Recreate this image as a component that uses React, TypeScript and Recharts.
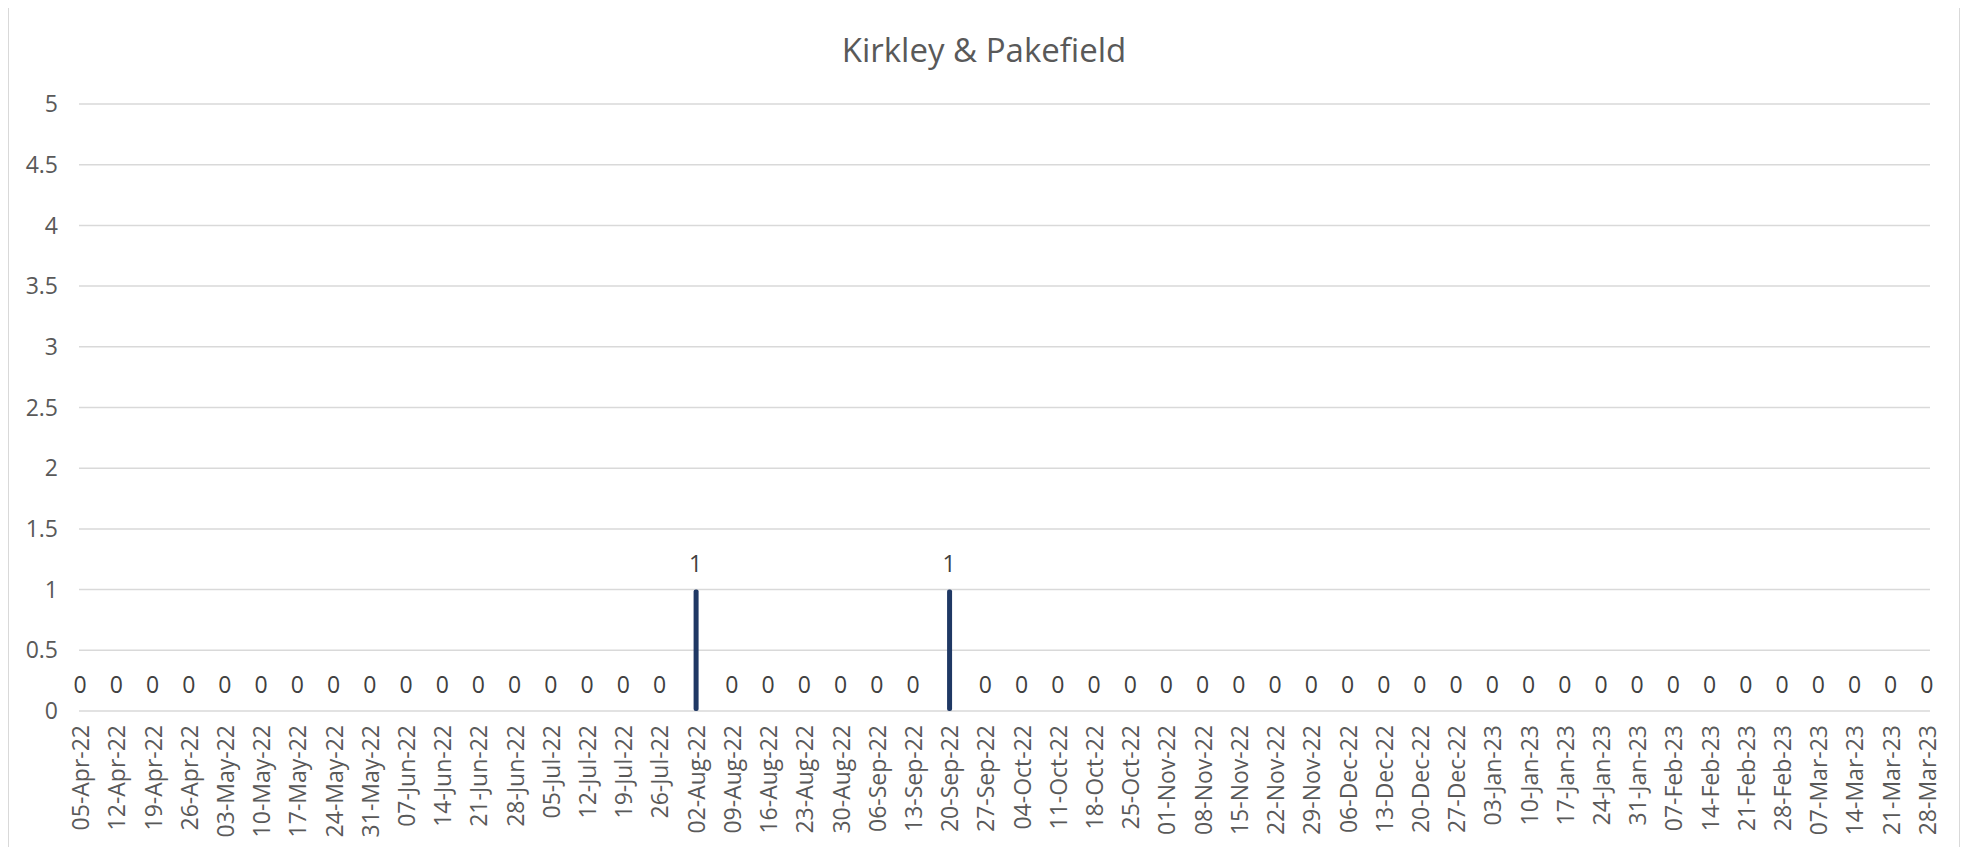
import { ComposedChart, Bar, Line, XAxis, YAxis, CartesianGrid, LabelList } from "recharts";

const weeks = [
  "05-Apr-22", "12-Apr-22", "19-Apr-22", "26-Apr-22",
  "03-May-22", "10-May-22", "17-May-22", "24-May-22", "31-May-22",
  "07-Jun-22", "14-Jun-22", "21-Jun-22", "28-Jun-22",
  "05-Jul-22", "12-Jul-22", "19-Jul-22", "26-Jul-22",
  "02-Aug-22", "09-Aug-22", "16-Aug-22", "23-Aug-22", "30-Aug-22",
  "06-Sep-22", "13-Sep-22", "20-Sep-22", "27-Sep-22",
  "04-Oct-22", "11-Oct-22", "18-Oct-22", "25-Oct-22",
  "01-Nov-22", "08-Nov-22", "15-Nov-22", "22-Nov-22", "29-Nov-22",
  "06-Dec-22", "13-Dec-22", "20-Dec-22", "27-Dec-22",
  "03-Jan-23", "10-Jan-23", "17-Jan-23", "24-Jan-23", "31-Jan-23",
  "07-Feb-23", "14-Feb-23", "21-Feb-23", "28-Feb-23",
  "07-Mar-23", "14-Mar-23", "21-Mar-23", "28-Mar-23",
];

const counts = [
  0, 0, 0, 0,
  0, 0, 0, 0, 0,
  0, 0, 0, 0,
  0, 0, 0, 0,
  1, 0, 0, 0, 0,
  0, 0, 1, 0,
  0, 0, 0, 0,
  0, 0, 0, 0, 0,
  0, 0, 0, 0,
  0, 0, 0, 0, 0,
  0, 0, 0, 0,
  0, 0, 0, 0,
];

const yTicks = [0, 0.5, 1, 1.5, 2, 2.5, 3, 3.5, 4, 4.5, 5];

const TEXT = "#595959";
const FONT = "'Open Sans', sans-serif";

const data = weeks.map((week, i) => ({ week, value: counts[i] }));

// rotated date labels, reading bottom to top
function WeekTick({ x, y, payload }: any) {
  return (
    <text
      x={x}
      y={y}
      transform={`rotate(-90, ${x}, ${y})`}
      textAnchor="end"
      dominantBaseline="central"
      fill={TEXT}
      fontSize={23}
      fontFamily={FONT}
    >
      {payload.value}
    </text>
  );
}

export default function App() {
  return (
    <div
      style={{
        position: "relative",
        width: 1952,
        height: 845,
        marginTop: -3,
        border: "1px solid #d9d9d9",
        boxSizing: "border-box",
        background: "#fff",
        fontFamily: FONT,
      }}
    >
      <div
        style={{
          position: "absolute",
          top: 21,
          left: 0,
          width: "100%",
          textAlign: "center",
          fontSize: 33,
          color: TEXT,
        }}
      >
        Kirkley &amp; Pakefield
      </div>
      <ComposedChart
        width={1950}
        height={843}
        data={data}
        margin={{ top: 98, right: 29, bottom: 0, left: 0 }}
        style={{ position: "absolute", left: 0, top: 0 }}
      >
        <CartesianGrid vertical={false} stroke="#d9d9d9" strokeWidth={1.5} />
        <XAxis
          dataKey="week"
          interval={0}
          axisLine={false}
          tickLine={false}
          tickMargin={8}
          height={138}
          padding={{ left: -17, right: -15 }}
          tick={<WeekTick />}
        />
        <YAxis
          width={70}
          domain={[0, 5]}
          ticks={yTicks}
          axisLine={false}
          tickLine={false}
          tickMargin={15}
          tick={{ fill: TEXT, fontSize: 23, fontFamily: FONT }}
        />
        <Bar
          dataKey="value"
          fill="#1f3864"
          barSize={5}
          radius={2}
          isAnimationActive={false}
        />
        {/* invisible series carrying the value labels, zeros included */}
        <Line
          dataKey="value"
          stroke="none"
          dot={false}
          activeDot={false}
          isAnimationActive={false}
        >
          <LabelList
            dataKey="value"
            position="top"
            offset={18}
            fill="#404040"
            fontSize={23}
            fontFamily={FONT}
          />
        </Line>
      </ComposedChart>
    </div>
  );
}
